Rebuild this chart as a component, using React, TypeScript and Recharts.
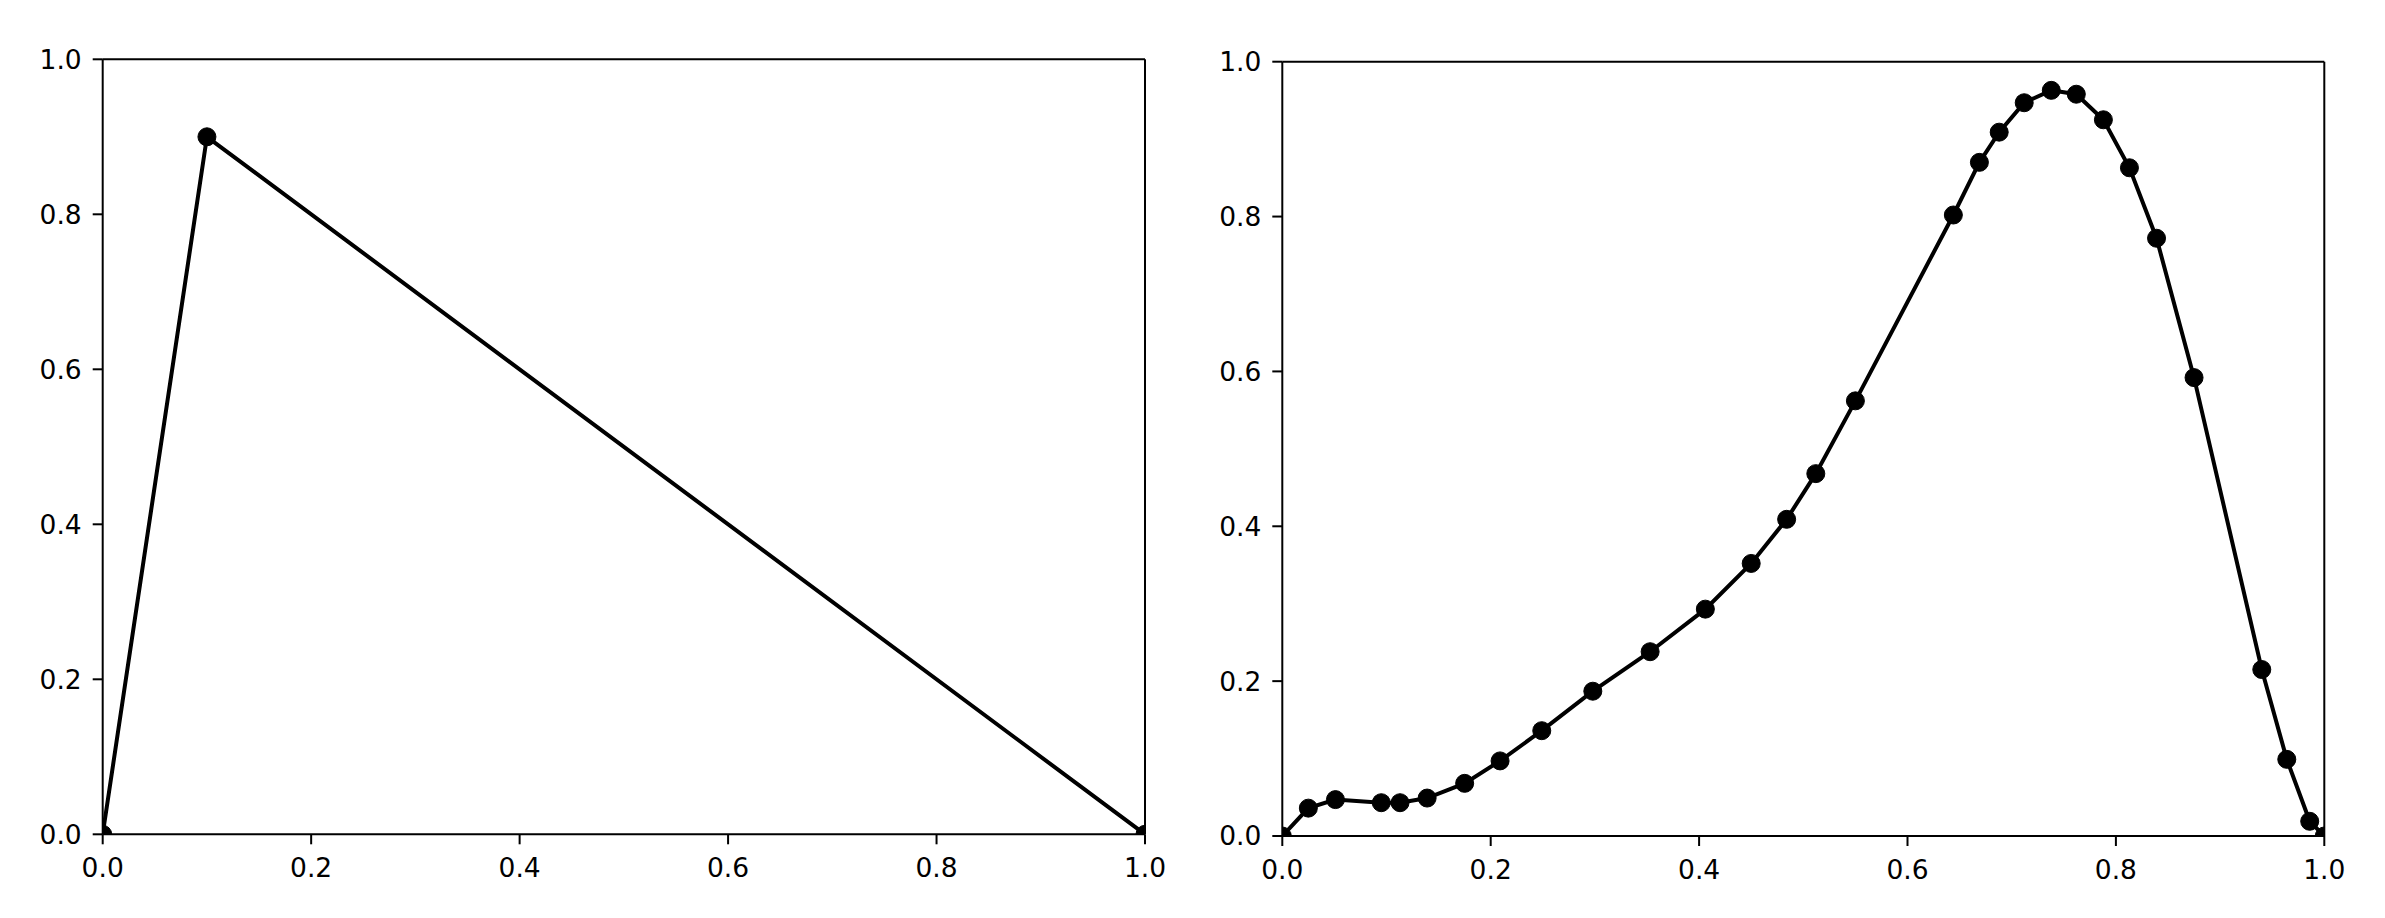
import { LineChart, Line, XAxis, YAxis, ReferenceLine } from 'recharts';

// left panel: simple triangle
const leftX = [0, 0.1, 1];
const leftY = [0, 0.9, 0];

// right panel: skewed bump
const rightX = [
  0, 0.025, 0.051, 0.095, 0.113, 0.139, 0.175, 0.209, 0.249, 0.298, 0.353, 0.406, 0.45, 0.484,
  0.512, 0.55, 0.644, 0.669, 0.688, 0.712, 0.738, 0.762, 0.788, 0.813, 0.839, 0.875, 0.94, 0.964,
  0.986, 1.0,
];
const rightY = [
  0, 0.036, 0.047, 0.043, 0.043, 0.049, 0.068, 0.097, 0.136, 0.187, 0.238, 0.293, 0.352, 0.409,
  0.468, 0.562, 0.802, 0.87, 0.909, 0.947, 0.963, 0.958, 0.925, 0.863, 0.772, 0.592, 0.215, 0.099,
  0.019, 0,
];

const ticks = [0, 0.2, 0.4, 0.6, 0.8, 1.0];

const FONT = 'DejaVu Sans, sans-serif';
const tickStyle = { fill: '#000', fontSize: 26.5, fontFamily: FONT };
const axisLine = { stroke: '#000', strokeWidth: 2 };

type Margin = { top: number; left: number; right: number; bottom: number };

type PanelProps = {
  xs: number[];
  ys: number[];
  left: number;
  width: number;
  margin: Margin;
};

function Panel({ xs, ys, left, width, margin }: PanelProps) {
  const data = xs.map((x, i) => ({ x, y: ys[i] }));
  return (
    <div style={{ position: 'absolute', left, top: 0, width, height: 918 }}>
      <LineChart width={width} height={918} data={data} margin={margin}>
        <XAxis
          dataKey="x"
          type="number"
          domain={[0, 1]}
          ticks={ticks}
          allowDataOverflow
          tickFormatter={(v: number) => v.toFixed(1)}
          height={50}
          tickSize={10}
          tickMargin={14}
          tick={tickStyle}
          axisLine={axisLine}
          tickLine={axisLine}
        />
        <YAxis
          type="number"
          domain={[0, 1]}
          ticks={ticks}
          allowDataOverflow
          tickFormatter={(v: number) => v.toFixed(1)}
          width={60}
          tickSize={10}
          tickMargin={11}
          tick={tickStyle}
          axisLine={axisLine}
          tickLine={axisLine}
        />
        <Line
          dataKey="y"
          type="linear"
          stroke="#000"
          strokeWidth={4}
          dot={{ r: 9, fill: '#000', stroke: '#000', strokeWidth: 1 }}
          activeDot={false}
          isAnimationActive={false}
        />
        <ReferenceLine y={1} stroke="#000" strokeWidth={2} />
        <ReferenceLine x={1} stroke="#000" strokeWidth={2} />
      </LineChart>
    </div>
  );
}

export default function App() {
  return (
    <div
      style={{
        position: 'fixed',
        left: 0,
        top: 0,
        width: 2385,
        height: 918,
        background: '#fff',
      }}
    >
      <Panel
        xs={leftX}
        ys={leftY}
        left={0}
        width={1200}
        margin={{ top: 59.3, left: 42.7, right: 55, bottom: 33.7 }}
      />
      <Panel
        xs={rightX}
        ys={rightY}
        left={1180}
        width={1205}
        margin={{ top: 61.7, left: 42.3, right: 60.7, bottom: 32 }}
      />
    </div>
  );
}
